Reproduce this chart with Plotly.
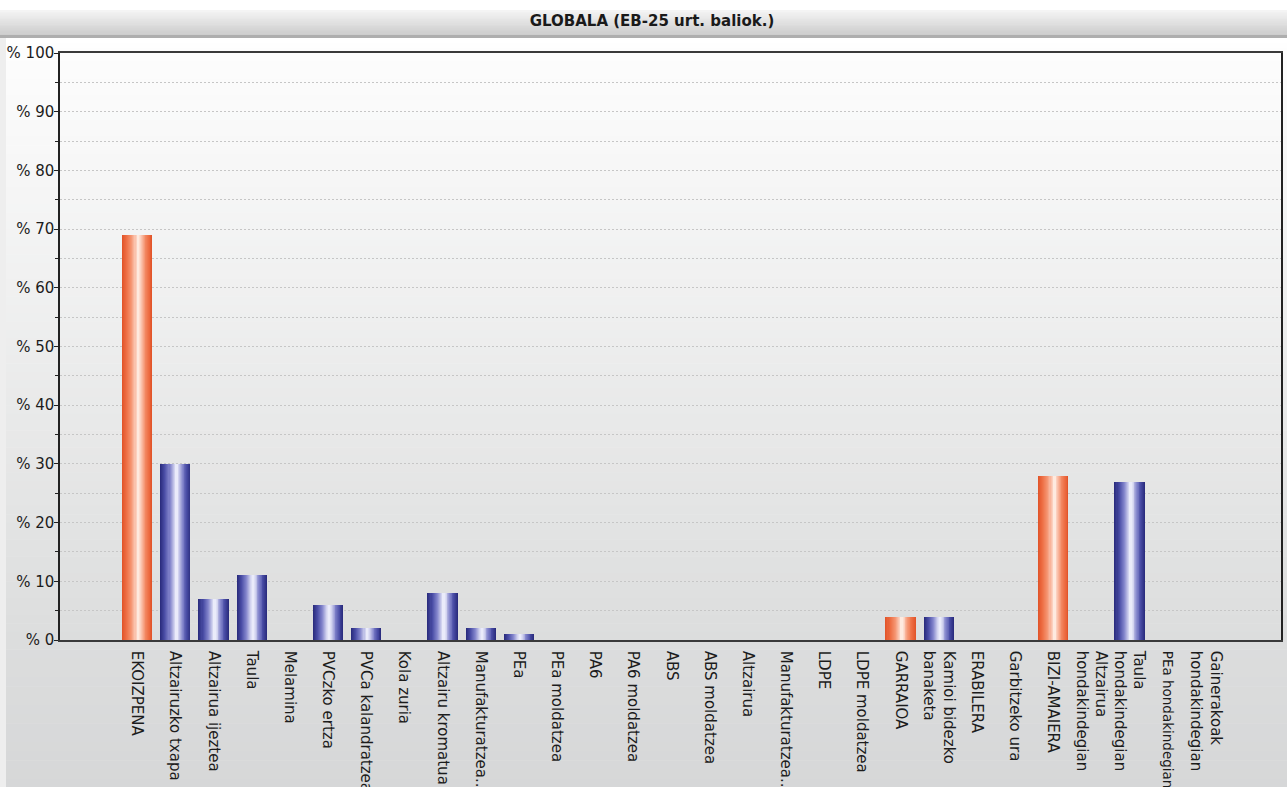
import plotly.graph_objects as go

# Life-cycle stages and their sub-processes (phase headers are flagged)
categories = [
    "EKOIZPENA", "Altzairuzko txapa", "Altzairua ijeztea", "Taula", "Melamina",
    "PVCzko ertza", "PVCa kalandratzea", "Kola zuria", "Altzairu kromatua",
    "Manufakturatzea...", "PEa", "PEa moldatzea", "PA6", "PA6 moldatzea", "ABS",
    "ABS moldatzea", "Altzairua", "Manufakturatzea...", "LDPE", "LDPE moldatzea",
    "GARRAIOA", "Kamioi bidezko<br>banaketa", "ERABILERA", "Garbitzeko ura",
    "BIZI-AMAIERA", "Altzairua<br>hondakindegian", "Taula<br>hondakindegian",
    "<span style='font-size:13.5px'>PEa hondakindegian</span>",
    "Gainerakoak<br>hondakindegian",
]
values = [69, 30, 7, 11, 0, 6, 2, 0, 8, 2, 1, 0, 0, 0, 0, 0, 0, 0, 0, 0,
          4, 4, 0, 0, 28, 0, 27, 0, 0]
is_phase = [1, 0, 0, 0, 0, 0, 0, 0, 0, 0, 0, 0, 0, 0, 0, 0, 0, 0, 0, 0,
            1, 0, 1, 0, 1, 0, 0, 0, 0]
y_ticks = [0, 10, 20, 30, 40, 50, 60, 70, 80, 90, 100]

FIG_W, FIG_H = 1287, 787
M_L, M_R, M_T, M_B = 60, 6, 53, 147
PLOT_W = FIG_W - M_L - M_R
PLOT_H = FIG_H - M_T - M_B


def hex2rgb(h):
    h = h.lstrip("#")
    return [int(h[i:i + 2], 16) for i in (0, 2, 4)]


def lerp_stops(stops, t):
    for (t0, c0), (t1, c1) in zip(stops, stops[1:]):
        if t <= t1:
            f = 0 if t1 == t0 else (t - t0) / (t1 - t0)
            a, b = hex2rgb(c0), hex2rgb(c1)
            return "rgb(%d,%d,%d)" % tuple(round(a[k] + (b[k] - a[k]) * f) for k in range(3))
    r = hex2rgb(stops[-1][1])
    return "rgb(%d,%d,%d)" % tuple(r)


def px_x(px):
    return (px - M_L) / PLOT_W


def px_y(py):
    return (FIG_H - M_B - py) / PLOT_H


# Cylinder shading: colour by distance from the bar centre (0 = centre, 1 = edge)
blue_stops = [(0.0, "#f6f6ff"), (0.18, "#d4d5f0"), (0.45, "#8486cc"),
              (0.75, "#4a4da6"), (1.0, "#2b2d7f")]
orange_stops = [(0.0, "#fff6f0"), (0.18, "#fcd2c0"), (0.45, "#f59572"),
                (0.75, "#ee6f45"), (1.0, "#e2552a")]

x_pos = list(range(len(categories)))
BAR_W = 0.79
N_LAYERS = 16

fig = go.Figure()
for i in range(N_LAYERS):
    t = 1 - i / N_LAYERS
    colors = [lerp_stops(orange_stops if p else blue_stops, t) for p in is_phase]
    fig.add_trace(go.Bar(
        x=x_pos, y=values, width=BAR_W * t,
        offset=-BAR_W * t / 2 + 0.04 * (1 - t),
        marker=dict(color=colors, line=dict(width=0)),
        hoverinfo="skip" if i else "y", showlegend=False,
    ))

# Background panels: white-to-grey vertical gradients
shapes = []


def gradient(py0, py1, c0, c1, steps, x0=-0.2, x1=1.2):
    for k in range(steps):
        a = py0 + (py1 - py0) * k / steps
        b = py0 + (py1 - py0) * (k + 1) / steps
        col = lerp_stops([(0, c0), (1, c1)], (k + 0.5) / steps)
        shapes.append(dict(type="rect", xref="paper", yref="paper",
                           x0=x0, x1=x1, y0=px_y(b + 0.5), y1=px_y(a),
                           fillcolor=col, line=dict(width=0), layer="below"))


gradient(10, 35, "#f6f6f6", "#cbcbcb", 14)
gradient(35, 38, "#a9a9a9", "#b4b4b4", 1)
gradient(38, 53, "#ffffff", "#fdfdfd", 3)
gradient(53, 640, "#fdfdfd", "#dcdddd", 70)
gradient(640, 788, "#dcdddd", "#d6d7d8", 16)
shapes.append(dict(type="rect", xref="paper", yref="paper",
                   x0=px_x(0), x1=px_x(6), y0=px_y(788), y1=px_y(38),
                   fillcolor="#eeeeee", line=dict(width=0), layer="below"))

fig.update_layout(
    width=FIG_W, height=FIG_H,
    margin=dict(l=M_L, r=M_R, t=M_T, b=M_B, autoexpand=False),
    paper_bgcolor="#ffffff", plot_bgcolor="rgba(0,0,0,0)",
    barmode="overlay", bargap=0,
    font=dict(family="DejaVu Sans", color="#1c1c1c"),
    title=dict(text="<b>GLOBALA (EB-25 urt. baliok.)</b>",
               x=652 / FIG_W, xanchor="center", xref="container",
               y=1 - 21 / FIG_H, yanchor="middle", yref="container",
               font=dict(family="DejaVu Sans", size=15, color="#1a1a1a")),
    shapes=shapes,
    xaxis=dict(
        range=[-2.02, 29.97], tickmode="array", tickvals=x_pos,
        ticktext=categories, tickangle=90, ticks="", showgrid=False,
        tickfont=dict(size=15, family="DejaVu Sans", color="#1c1c1c"),
        ticklabelstandoff=6, showline=True, linecolor="#3a3a3a",
        linewidth=1.5, mirror=True, zeroline=False, automargin=False,
    ),
    yaxis=dict(
        range=[0, 100], tickmode="array", tickvals=y_ticks,
        ticktext=["% " + str(v) for v in y_ticks],
        tickfont=dict(size=15, family="DejaVu Sans", color="#1c1c1c"),
        ticks="outside", ticklen=4, tickcolor="#222222", tickwidth=1,
        ticklabelstandoff=-3,
        showgrid=True, gridcolor="#c6c6c6", griddash="2px,2px", gridwidth=1,
        minor=dict(dtick=5, showgrid=True, gridcolor="#c6c6c6",
                   griddash="2px,2px", ticks="outside", ticklen=3,
                   tickcolor="#222222"),
        showline=True, linecolor="#222222", linewidth=1.5, mirror=True,
        zeroline=False, automargin=False,
    ),
)

fig.write_html("out.html")
